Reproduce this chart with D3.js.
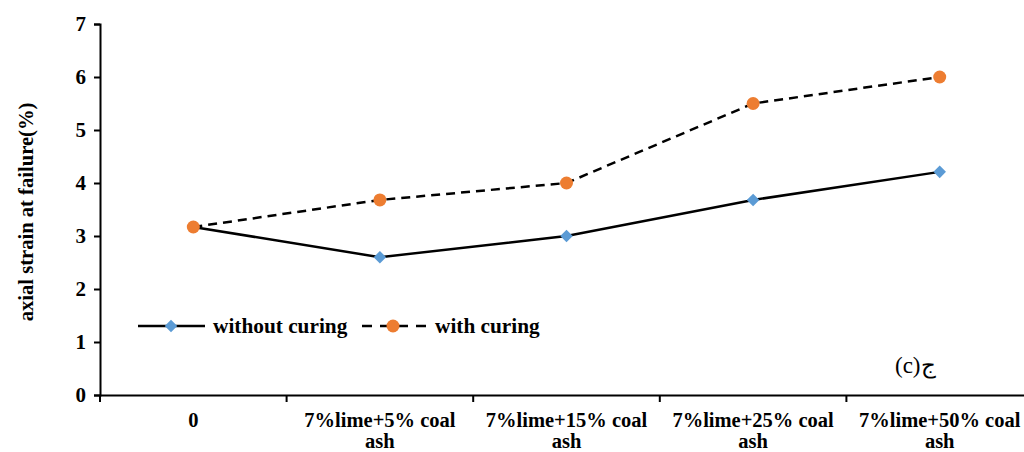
<!DOCTYPE html>
<html><head><meta charset="utf-8">
<script src="https://cdn.jsdelivr.net/npm/d3@7/dist/d3.min.js"></script>
<style>body{margin:0;background:#fff}svg{display:block}</style>
</head><body>
<script>
const categories = ["0", "7%lime+5% coal ash", "7%lime+15% coal ash", "7%lime+25% coal ash", "7%lime+50% coal ash"];
const categoryLines = [["0"], ["7%lime+5% coal", "ash"], ["7%lime+15% coal", "ash"], ["7%lime+25% coal", "ash"], ["7%lime+50% coal", "ash"]];
const withoutCuring = [3.17, 2.6, 3.0, 3.68, 4.21];
const withCuring = [3.17, 3.68, 4.0, 5.5, 6.0];
const yTicks = [0, 1, 2, 3, 4, 5, 6, 7];
const seriesNames = ["without curing", "with curing"];

const W = 1024, H = 452;
const svg = d3.select("body").append("svg").attr("width", W).attr("height", H);
const font = "Liberation Serif, Times New Roman, serif";

const x = d3.scaleBand().domain(categories).range([100, 1033]);
const y = d3.scaleLinear().domain([0, 7]).range([395, 24]);

// y axis
const ya = svg.append("g").attr("transform", "translate(100,0)")
  .call(d3.axisLeft(y).tickValues(yTicks).tickSize(6).tickPadding(8).tickFormat(d3.format("d")));
ya.select(".domain").attr("stroke", "#000").attr("stroke-width", 2);
ya.selectAll(".tick line").attr("stroke", "#000").attr("stroke-width", 2);
ya.selectAll("text").attr("font-family", font).attr("font-weight", "bold").attr("font-size", 21).attr("fill", "#000");

// x axis
const xa = svg.append("g").attr("transform", "translate(0,395)")
  .call(d3.axisBottom(x).tickSize(0).tickFormat(""));
xa.select(".domain").attr("stroke", "#000").attr("stroke-width", 2);
xa.selectAll(".tick").remove();
svg.append("g").selectAll("line").data(categories).join("line")
  .attr("x1", d => x(d)).attr("x2", d => x(d)).attr("y1", 395).attr("y2", 402)
  .attr("stroke", "#000").attr("stroke-width", 2);
svg.append("g").selectAll("text").data(categories).join("text")
  .attr("x", d => x(d) + x.bandwidth() / 2)
  .attr("y", 427)
  .attr("text-anchor", "middle")
  .attr("font-family", font).attr("font-weight", "bold").attr("font-size", 20.5).attr("fill", "#000")
  .each(function(d, i) {
    const t = d3.select(this);
    categoryLines[i].forEach((ln, j) => {
      t.append("tspan").attr("x", x(d) + x.bandwidth() / 2).attr("dy", j === 0 ? 0 : 21).text(ln);
    });
  });

// y title
svg.append("text")
  .attr("transform", "translate(33,212) rotate(-90)")
  .attr("text-anchor", "middle")
  .attr("font-family", font).attr("font-weight", "bold").attr("font-size", 20.6).attr("fill", "#000")
  .text("axial strain at failure(%)");

const cx = d => x(d) + x.bandwidth() / 2;
const line = d3.line().x((v, i) => cx(categories[i])).y(v => y(v));

svg.append("path").datum(withCuring).attr("d", line)
  .attr("fill", "none").attr("stroke", "#000").attr("stroke-width", 2.5).attr("stroke-dasharray", "9,6");
svg.append("path").datum(withoutCuring).attr("d", line)
  .attr("fill", "none").attr("stroke", "#000").attr("stroke-width", 2.5);

const diamond = d3.symbol().type(d3.symbolDiamond2).size(100);
svg.append("g").selectAll("path").data(withoutCuring).join("path")
  .attr("d", diamond)
  .attr("transform", (v, i) => `translate(${cx(categories[i])},${y(v)})`)
  .attr("fill", "#5B9BD5");
svg.append("g").selectAll("circle").data(withCuring).join("circle")
  .attr("cx", (v, i) => cx(categories[i])).attr("cy", v => y(v)).attr("r", 6.5)
  .attr("fill", "#ED7D31");

// legend
const ly = 326;
const lg = svg.append("g");
lg.append("line").attr("x1", 138).attr("x2", 205).attr("y1", ly).attr("y2", ly).attr("stroke", "#000").attr("stroke-width", 2.5);
lg.append("path").attr("d", diamond).attr("transform", `translate(171,${ly})`).attr("fill", "#5B9BD5");
lg.append("text").attr("x", 213).attr("y", ly + 7).attr("font-family", font).attr("font-weight", "bold").attr("font-size", 21.3).text(seriesNames[0]);
lg.append("line").attr("x1", 362).attr("x2", 428).attr("y1", ly).attr("y2", ly).attr("stroke", "#000").attr("stroke-width", 2.5).attr("stroke-dasharray", "10,8");
lg.append("circle").attr("cx", 393).attr("cy", ly).attr("r", 6.5).attr("fill", "#ED7D31");
lg.append("text").attr("x", 435).attr("y", ly + 7).attr("font-family", font).attr("font-weight", "bold").attr("font-size", 21.3).text(seriesNames[1]);

svg.append("text").attr("x", 895).attr("y", 373).attr("font-family", font).attr("font-size", 23).attr("fill", "#000").text("(c)ج");
</script>
</body></html>
